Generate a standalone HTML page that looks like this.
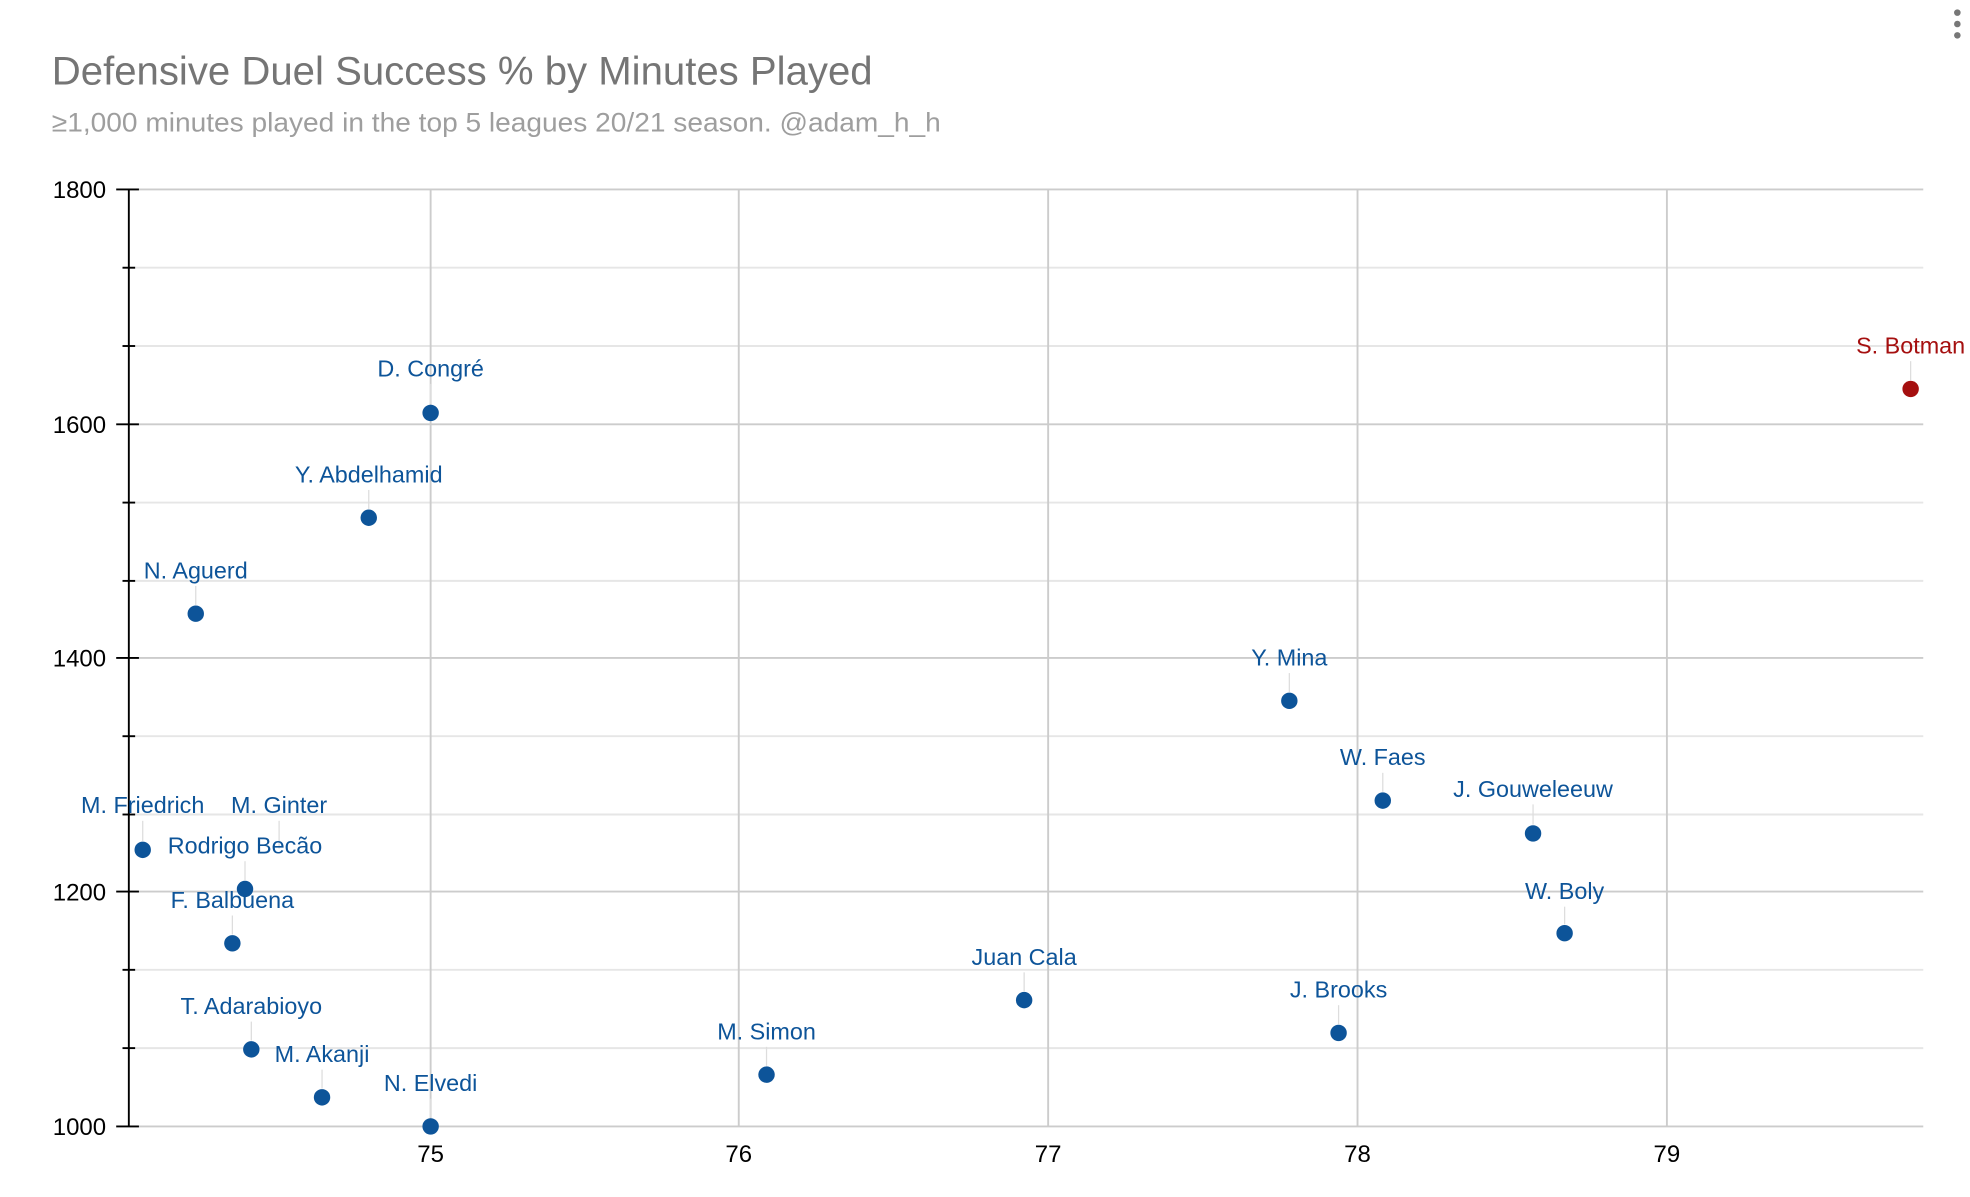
<!DOCTYPE html>
<html><head><meta charset="utf-8"><style>
html,body{margin:0;padding:0;background:#fff;}
svg{display:block;}
text{font-family:"Liberation Sans",Arial,sans-serif;}
</style></head><body>
<svg width="1970" height="1197" viewBox="0 0 1560 947.9" xmlns="http://www.w3.org/2000/svg">
<rect width="1560" height="948" fill="#fff"/>
<text x="41" y="67" font-size="31.5" fill="#757575" textLength="650" lengthAdjust="spacingAndGlyphs">Defensive Duel Success % by Minutes Played</text>
<text x="41" y="104" font-size="21.5" fill="#9e9e9e" textLength="704" lengthAdjust="spacingAndGlyphs">≥1,000 minutes played in the top 5 leagues 20/21 season. @adam_h_h</text>
<circle cx="1550" cy="10" r="2.6" fill="#777"/><circle cx="1550" cy="19" r="2.6" fill="#777"/><circle cx="1550" cy="28" r="2.6" fill="#777"/>
<g stroke="#e6e6e6" stroke-width="1.5">
<line x1="103" y1="212" x2="1523" y2="212"/><line x1="103" y1="274" x2="1523" y2="274"/>
<line x1="103" y1="398" x2="1523" y2="398"/><line x1="103" y1="460" x2="1523" y2="460"/>
<line x1="103" y1="583" x2="1523" y2="583"/><line x1="103" y1="645" x2="1523" y2="645"/>
<line x1="103" y1="768" x2="1523" y2="768"/><line x1="103" y1="830" x2="1523" y2="830"/>
</g>
<g stroke="#cccccc" stroke-width="1.5">
<line x1="103" y1="150" x2="1523" y2="150"/><line x1="103" y1="336" x2="1523" y2="336"/>
<line x1="103" y1="521" x2="1523" y2="521"/><line x1="103" y1="706" x2="1523" y2="706"/>
<line x1="103" y1="892" x2="1523" y2="892"/>
<line x1="341" y1="150" x2="341" y2="892"/><line x1="585" y1="150" x2="585" y2="892"/>
<line x1="830" y1="150" x2="830" y2="892"/><line x1="1075" y1="150" x2="1075" y2="892"/>
<line x1="1320" y1="150" x2="1320" y2="892"/>
</g>
<g stroke="#000" stroke-width="1.5">
<line x1="102" y1="150" x2="102" y2="892"/>
<line x1="92" y1="150" x2="110" y2="150"/><line x1="92" y1="336" x2="110" y2="336"/>
<line x1="92" y1="521" x2="110" y2="521"/><line x1="92" y1="706" x2="110" y2="706"/><line x1="92" y1="892" x2="110" y2="892"/>
<line x1="97" y1="212" x2="107" y2="212"/><line x1="97" y1="274" x2="107" y2="274"/>
<line x1="97" y1="398" x2="107" y2="398"/><line x1="97" y1="460" x2="107" y2="460"/>
<line x1="97" y1="583" x2="107" y2="583"/><line x1="97" y1="645" x2="107" y2="645"/>
<line x1="97" y1="768" x2="107" y2="768"/><line x1="97" y1="830" x2="107" y2="830"/>
</g>
<g font-size="19" fill="#000" text-anchor="end">
<text x="84" y="157">1800</text><text x="84" y="343">1600</text><text x="84" y="528">1400</text>
<text x="84" y="713">1200</text><text x="84" y="899">1000</text>
</g>
<g font-size="19" fill="#000" text-anchor="middle">
<text x="341" y="920">75</text><text x="585" y="920">76</text><text x="830" y="920">77</text>
<text x="1075" y="920">78</text><text x="1320" y="920">79</text>
</g>
<g stroke="#dddddd" stroke-width="1">
<line x1="341" y1="304" x2="341" y2="320"/><line x1="292" y1="388" x2="292" y2="403"/>
<line x1="155" y1="464" x2="155" y2="479"/><line x1="1513" y1="286" x2="1513" y2="301"/>
<line x1="1021" y1="533" x2="1021" y2="548"/><line x1="1095" y1="612" x2="1095" y2="627"/>
<line x1="1214" y1="637" x2="1214" y2="653"/><line x1="1239" y1="718" x2="1239" y2="732"/>
<line x1="811" y1="770" x2="811" y2="785"/><line x1="1060" y1="796" x2="1060" y2="811"/>
<line x1="607" y1="829" x2="607" y2="844"/><line x1="113" y1="650" x2="113" y2="666"/>
<line x1="221" y1="650" x2="221" y2="672"/><line x1="194" y1="682" x2="194" y2="697"/>
<line x1="184" y1="725" x2="184" y2="740"/><line x1="199" y1="809" x2="199" y2="824"/>
<line x1="255" y1="847" x2="255" y2="862"/><line x1="341" y1="870" x2="341" y2="885"/>
</g>
<g fill="#0d5499">
<circle cx="341" cy="327" r="6.5"/><circle cx="292" cy="410" r="6.5"/><circle cx="155" cy="486" r="6.5"/>
<circle cx="1021" cy="555" r="6.5"/><circle cx="1095" cy="634" r="6.5"/><circle cx="1214" cy="660" r="6.5"/>
<circle cx="1239" cy="739" r="6.5"/><circle cx="811" cy="792" r="6.5"/><circle cx="1060" cy="818" r="6.5"/>
<circle cx="607" cy="851" r="6.5"/><circle cx="113" cy="673" r="6.5"/><circle cx="194" cy="704" r="6.5"/>
<circle cx="184" cy="747" r="6.5"/><circle cx="199" cy="831" r="6.5"/><circle cx="255" cy="869" r="6.5"/>
<circle cx="341" cy="892" r="6.5"/>
</g>
<circle cx="1513" cy="308" r="6.5" fill="#a50f0f"/>
<g font-size="18.5" fill="#0d5499" text-anchor="middle">
<text x="341" y="298">D. Congré</text><text x="292" y="382">Y. Abdelhamid</text><text x="155" y="458">N. Aguerd</text>
<text x="1021" y="527">Y. Mina</text><text x="1095" y="606">W. Faes</text><text x="1214" y="631">J. Gouweleeuw</text>
<text x="1239" y="712">W. Boly</text><text x="811" y="764">Juan Cala</text><text x="1060" y="790">J. Brooks</text>
<text x="607" y="823">M. Simon</text><text x="113" y="644">M. Friedrich</text><text x="221" y="644">M. Ginter</text>
<text x="194" y="676">Rodrigo Becão</text><text x="184" y="719">F. Balbuena</text><text x="199" y="803">T. Adarabioyo</text>
<text x="255" y="841">M. Akanji</text><text x="341" y="864">N. Elvedi</text>
</g>
<text x="1513" y="280" font-size="18.5" fill="#a50f0f" text-anchor="middle">S. Botman</text>
</svg>
</body></html>
